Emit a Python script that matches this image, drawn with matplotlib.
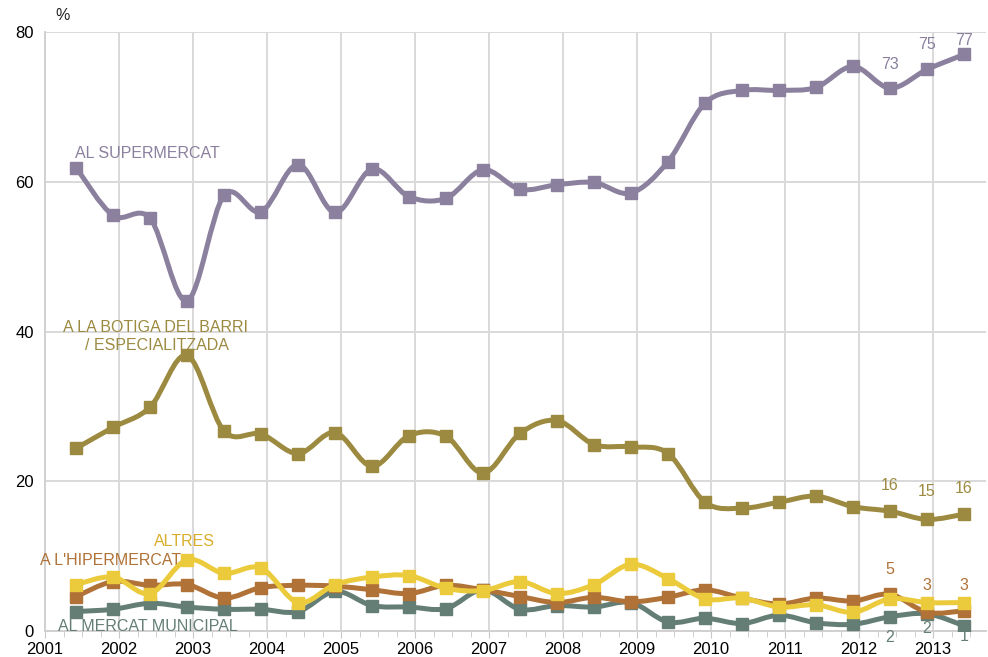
import numpy as np
import matplotlib
matplotlib.use("Agg")
import matplotlib.pyplot as plt
from matplotlib.path import Path
from matplotlib.patches import PathPatch
from matplotlib.ticker import MultipleLocator

plt.rcParams['font.family'] = ['Liberation Sans', 'DejaVu Sans']

# survey waves (half-yearly), first one mid-2001
periods = [2001.42 + 0.5 * i for i in range(25)]

supermercat = [61.9, 55.5, 55.1, 44.1, 58.2, 56.0, 62.3, 55.9, 61.7, 58.0, 57.8, 61.6, 59.0,
               59.6, 59.9, 58.5, 62.7, 70.5, 72.2, 72.2, 72.6, 75.4, 72.5, 75.0, 77.0]
botiga = [24.4, 27.2, 29.9, 36.8, 26.7, 26.3, 23.7, 26.5, 22.0, 26.1, 26.0, 21.1, 26.4,
          28.1, 24.9, 24.6, 23.7, 17.2, 16.4, 17.2, 18.0, 16.6, 16.0, 14.9, 15.6]
hipermercat = [4.6, 6.6, 6.1, 6.2, 4.4, 5.8, 6.1, 6.0, 5.5, 5.0, 6.1, 5.5, 4.6,
               3.8, 4.5, 3.9, 4.5, 5.5, 4.4, 3.6, 4.4, 4.0, 4.9, 2.5, 2.7]
altres = [6.2, 7.2, 5.0, 9.5, 7.7, 8.4, 3.8, 6.2, 7.2, 7.4, 5.7, 5.4, 6.6,
          5.0, 6.2, 8.9, 7.0, 4.3, 4.4, 3.2, 3.5, 2.5, 4.3, 3.8, 3.8]
mercat = [2.6, 2.9, 3.7, 3.2, 2.9, 2.9, 2.6, 5.3, 3.4, 3.2, 3.0, 5.5, 2.9,
          3.4, 3.2, 3.8, 1.2, 1.7, 1.0, 2.1, 1.1, 0.9, 1.9, 2.3, 0.7]

year_ticks = list(range(2001, 2014))
y_ticks = [0, 20, 40, 60, 80]

c_super = '#8B809E'
c_botiga = '#9C8A40'
c_hiper = '#B07237'
c_altres = '#EBCB3C'
c_mercat = '#647E76'

fig = plt.figure(figsize=(9.88, 6.57), dpi=100)
ax = fig.add_axes([45 / 988, 26 / 657, 941 / 988, 599 / 657])
ax.set_xlim(2001, 2001 + 941 / 74)
ax.set_ylim(0, 80)


def smooth_path(xs, ys):
    pts = np.column_stack([xs, ys]).astype(float)
    n = len(pts)
    verts = [pts[0]]
    codes = [Path.MOVETO]
    for i in range(n - 1):
        p0 = pts[i - 1] if i > 0 else pts[i]
        p1 = pts[i]
        p2 = pts[i + 1]
        p3 = pts[i + 2] if i + 2 < n else pts[i + 1]
        c1 = p1 + (p2 - p0) / 6.0
        c2 = p2 - (p3 - p1) / 6.0
        verts += [c1, c2, p2]
        codes += [Path.CURVE4] * 3
    return Path(verts, codes)


series = [
    (supermercat, c_super),
    (botiga, c_botiga),
    (mercat, c_mercat),
    (hipermercat, c_hiper),
    (altres, c_altres),
]
z = 3
for vals, col in series:
    patch = PathPatch(smooth_path(periods, vals), facecolor='none', edgecolor=col,
                      lw=3.6, capstyle='round', joinstyle='round', zorder=z)
    ax.add_patch(patch)
    ax.plot(periods, vals, linestyle='none', marker='s', markersize=8.5,
            color=col, zorder=z + 0.5)
    z += 1

# grid and axes styling
ax.set_xticks(year_ticks)
ax.set_xticklabels([str(y) for y in year_ticks])
ax.xaxis.set_minor_locator(MultipleLocator(0.25))
ax.set_yticks(y_ticks)
ax.grid(True, which='major', color='#D9D9D9', lw=1.4, zorder=0)
ax.set_axisbelow(True)
for s in ['top', 'right']:
    ax.spines[s].set_visible(False)
for s in ['left', 'bottom']:
    ax.spines[s].set_color('#D0D0D0')
    ax.spines[s].set_linewidth(1.4)
ax.tick_params(axis='x', which='major', length=5, color='#C8C8C8', labelsize=12, pad=3)
ax.tick_params(axis='x', which='minor', length=4, color='#C8C8C8')
ax.tick_params(axis='y', length=0, labelsize=12, pad=8)

fig.text(63 / 988, 1 - 15 / 657, '%', fontsize=11.5, ha='center', va='center', color='#222222')

# series labels
lab_kw = dict(fontsize=11.5, ha='center', va='center')
ax.text(2002.39, 63.8, 'AL SUPERMERCAT', color=c_super, **lab_kw)
ax.text(2002.49, 40.5, 'A LA BOTIGA DEL BARRI', color=c_botiga, **lab_kw)
ax.text(2002.51, 38.1, '/ ESPECIALITZADA', color=c_botiga, **lab_kw)
ax.text(2002.89, 11.9, 'ALTRES', color='#D9AE2C', **lab_kw)
ax.text(2001.88, 9.4, "A L'HIPERMERCAT", color=c_hiper, **lab_kw)
ax.text(2002.39, 0.6, 'AL MERCAT MUNICIPAL', color=c_mercat, **lab_kw)

# value labels for the last three waves
vk = dict(fontsize=11.5, ha='center', va='center')
last = periods[-3:]
for xv, yv, txt in zip(last, [75.7, 78.3, 78.8], ['73', '75', '77']):
    ax.text(xv, yv, txt, color=c_super, **vk)
for xv, yv, txt in zip(last, [19.4, 18.6, 19.0], ['16', '15', '16']):
    ax.text(xv, yv, txt, color=c_botiga, **vk)
for xv, yv, txt in zip(last, [8.2, 6.1, 6.1], ['5', '3', '3']):
    ax.text(xv, yv, txt, color=c_hiper, **vk)
for xv, yv, txt in zip(last, [-0.9, 0.4, -0.8], ['2', '2', '1']):
    ax.text(xv, yv, txt, color=c_mercat, clip_on=False, **vk)

fig.savefig('out.png', dpi=100, facecolor='white')
